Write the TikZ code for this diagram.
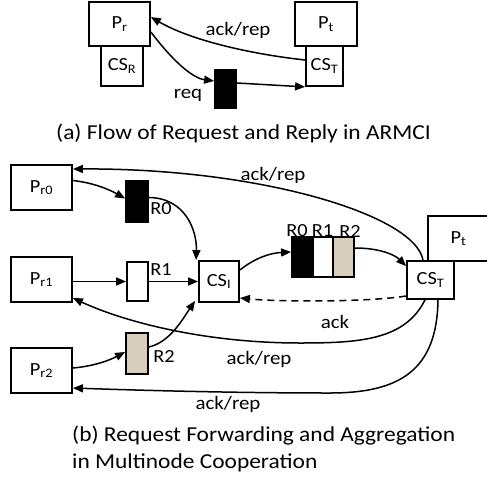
\documentclass[tikz,border=0pt]{standalone}
\usepackage{fontspec}
\setmainfont{Carlito}[FakeStretch=1.1]
\usetikzlibrary{arrows.meta}
\definecolor{sand}{RGB}{215,206,188}
\begin{document}
\begin{tikzpicture}[x=1pt,y=-1pt,
  box/.style={draw,line width=1.8pt,inner sep=0pt,fill=white,font=\fontsize{18.5}{21}\selectfont},
  msgbox/.style={draw,line width=1.8pt,inner sep=0pt},
  arr/.style={line width=1.5pt,-{Triangle[length=10pt,width=8pt]}},
  lbl/.style={inner sep=0pt,font=\fontsize{19}{22}\selectfont},
  rlbl/.style={inner sep=0pt,font=\fontsize{18.5}{21}\selectfont},
  caption/.style={inner sep=0pt,font=\fontsize{21.3}{27}\selectfont}]
\useasboundingbox (0,0) rectangle (487,477);
\clip (0,0) rectangle (487,477);

% ---------- (a) request / reply in ARMCI ----------
\node[box,minimum width=61pt,minimum height=44pt] (pr) at (119.5,24) {P\textsubscript{r}};
\node[box,minimum width=42pt,minimum height=40pt] (csr) at (122,66) {CS\textsubscript{R}};
\node[box,minimum width=62pt,minimum height=44pt] (pt) at (326,24) {P\textsubscript{t}};
\node[box,minimum width=37pt,minimum height=40pt] (cst) at (324.5,66) {CS\textsubscript{T}};
\node[msgbox,fill=black,minimum width=21pt,minimum height=38pt] (msg) at (225.5,89) {};

\draw[arr] ([yshift=6pt]cst.west) .. controls (250,54) and (190,40) .. ([yshift=7pt]pr.east);
\draw[arr] ([yshift=-8pt]pr.east) .. controls (172,60) and (192,78) .. ([yshift=8pt]msg.west);
\draw[arr] ([yshift=6pt]msg.east) -- (cst.south west);

\node[lbl] (la1) at (238,30) {ack/rep};
\node[lbl] (la2) at (188,95) {req};
\node[caption] (capa) at (243.5,133) {(a) Flow of Request and Reply in ARMCI};

% ---------- (b) forwarding and aggregation ----------
\node[box,minimum width=61pt,minimum height=45pt] (pr0) at (41.5,187.5) {P\textsubscript{r0}};
\node[box,minimum width=61pt,minimum height=45pt] (pr1) at (41.5,279.5) {P\textsubscript{r1}};
\node[box,minimum width=61pt,minimum height=45pt] (pr2) at (41.5,370.5) {P\textsubscript{r2}};

\node[msgbox,fill=black,minimum width=22pt,minimum height=41pt] (r0) at (137,201.5) {};
\node[msgbox,fill=white,minimum width=21pt,minimum height=39pt] (r1) at (137.5,281.5) {};
\node[msgbox,fill=sand,minimum width=22pt,minimum height=41pt] (r2) at (137,353.5) {};

\node[box,minimum width=40pt,minimum height=41pt] (csi) at (219,281.5) {CS\textsubscript{I}};

\node[msgbox,fill=black,minimum width=21pt,minimum height=40pt] (q0) at (302.5,257) {};
\node[msgbox,fill=white,minimum width=20pt,minimum height=40pt] (q1) at (323,257) {};
\node[msgbox,fill=sand,minimum width=21pt,minimum height=40pt] (q2) at (343.5,257) {};

\node[box,minimum width=61pt,minimum height=45pt] (ptb) at (458.5,238.5) {P\textsubscript{t}};
\node[box,minimum width=47pt,minimum height=38pt] (cstb) at (430.5,280) {CS\textsubscript{T}};

% requests towards the intermediate server
\draw[arr] ([yshift=7pt]pr0.east) .. controls (95,183) and (110,190) .. ([yshift=3pt]r0.west);
\draw[arr] ([yshift=4pt]r0.east) .. controls (185,198) and (197,230) .. ([xshift=-2pt]csi.north west);
\draw[arr] ([yshift=-2pt]pr1.east) -- (r1.west);
\draw[arr] (r1.east) -- (r1.east -| csi.west);
\draw[arr] ([yshift=2.5pt]pr2.east) .. controls (95,366) and (110,360) .. ([yshift=1.5pt]r2.west);
\draw[arr] ([yshift=6.5pt]r2.east) .. controls (170,342) and (182,320) .. ([xshift=-3pt,yshift=2pt]csi.south west);

% aggregated message to the target server
\draw[arr] ([yshift=11.5pt]csi.east) .. controls (255,258) and (270,253) .. ([yshift=5pt]q0.west);
\draw[arr] ([yshift=9pt]q2.east) .. controls (380,248) and (395,255) .. ([yshift=-6pt]cstb.north west);

% replies
\draw[arr] ([xshift=-7.5pt]cstb.north) .. controls (415,215) and (260,168) .. ([yshift=18.5pt]pr0.east);
\draw[arr,dashed,dash pattern=on 7pt off 5pt] ([yshift=-16pt]cstb.west) .. controls (370,302) and (280,302) .. ([yshift=-16.5pt]csi.east);
\draw[arr] ([xshift=-5.5pt]cstb.south) .. controls (405,340) and (360,343) .. (300,343)
  .. controls (200,343) and (120,320) .. ([yshift=-18.5pt]pr1.east);
\draw[arr] ([xshift=7.5pt]cstb.south) .. controls (437,370) and (400,393) .. (330,393)
  .. controls (230,393) and (130,390) .. ([yshift=-17.5pt]pr2.east);

% labels
\node[rlbl] (l0) at (161,209) {R0};
\node[rlbl] (l1) at (161,270) {R1};
\node[rlbl] (l2) at (164,356) {R2};
\node[rlbl] (lq0) at (297,231) {R0};
\node[rlbl] (lq1) at (322.5,231) {R1};
\node[rlbl] (lq2) at (350,231) {R2};
\node[lbl] (lb1) at (273,175) {ack/rep};
\node[lbl] (lb2) at (335,322) {ack};
\node[lbl] (lb3) at (259,359) {ack/rep};
\node[lbl] (lb4) at (228,404) {ack/rep};
\node[caption,align=left,anchor=north west] (capb) at (72,426)
  {(b) Request Forwarding and Aggregation\\in Multinode Cooperation};
\end{tikzpicture}
\end{document}
